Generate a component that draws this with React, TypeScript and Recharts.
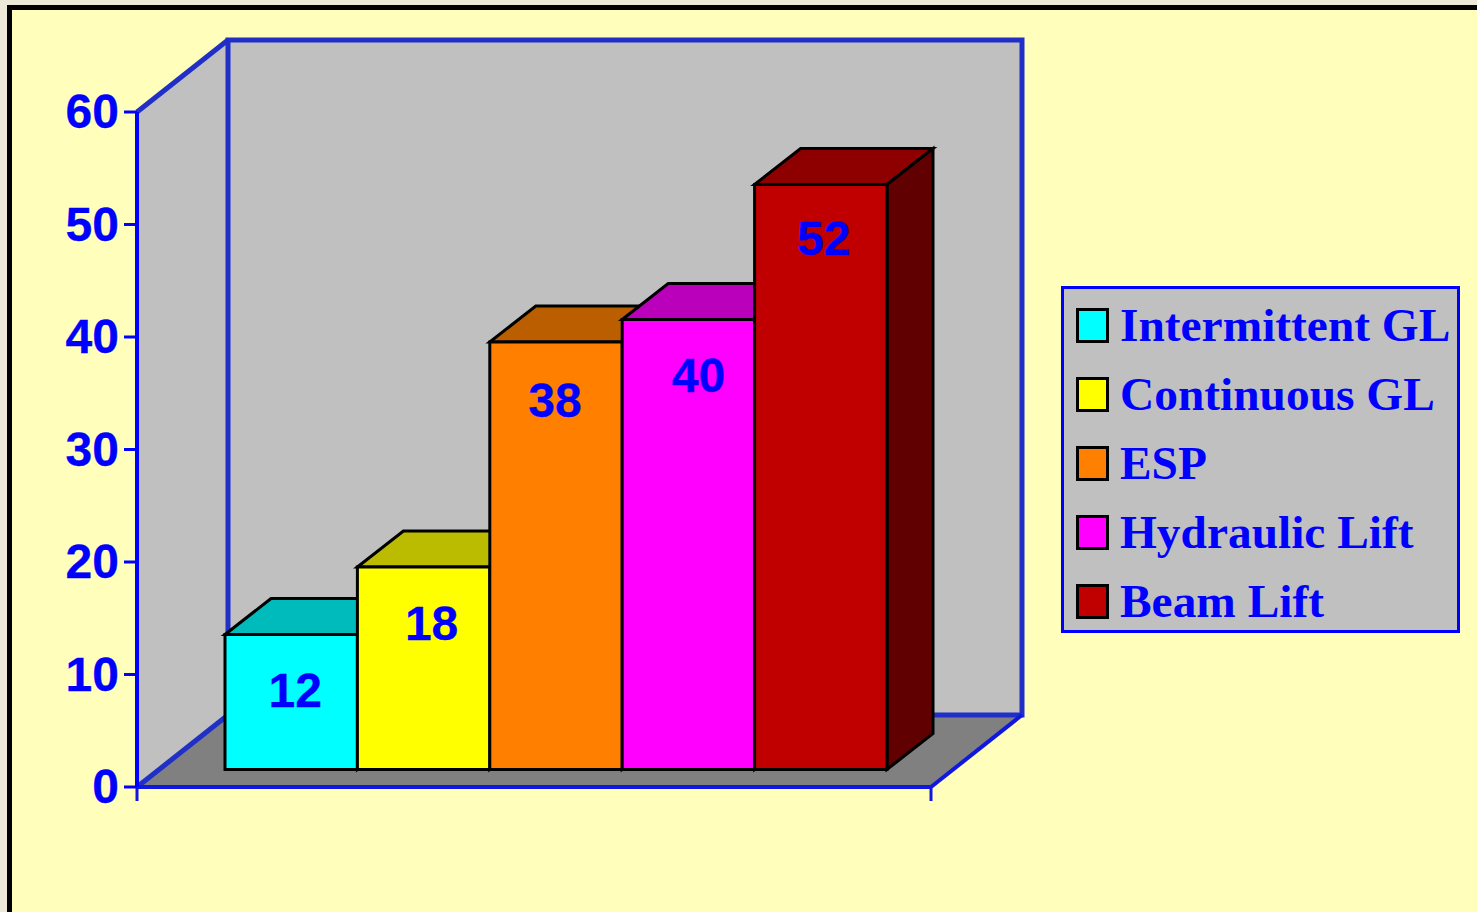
import { BarChart, Bar, XAxis, YAxis, Legend, LabelList, ReferenceArea } from 'recharts';

const seriesNames = ['Intermittent GL', 'Continuous GL', 'ESP', 'Hydraulic Lift', 'Beam Lift'];
const seriesValues = [12, 18, 38, 40, 52];
const yTicks = [0, 10, 20, 30, 40, 50, 60];

// front / top / side colours of each box
const frontColors = ['#00ffff', '#ffff00', '#ff8000', '#ff00ff', '#c00000'];
const topColors = ['#00bbbb', '#bbbb00', '#bb5e00', '#bb00bb', '#8e0000'];
const sideColors = ['#008080', '#808000', '#804000', '#800080', '#600000'];

// hand placed labels in the original, relative to the bar's front face
const labelDx = [4, 8, -1, 10, 3];
const labelDy = [56, 56, 58, 56, 54];

const BLUE = '#0000ff';
const WALL_BLUE = '#1f2fc8';
const AXIS_BLUE = '#1018e0';

// 3d look: back wall offset and bar depth, in px
const WALL_DX = 91;
const WALL_DY = -72;
const BAR_SHIFT_X = 22;
const BAR_SHIFT_Y = -17.5;
const BAR_DX = 46;
const BAR_DY = -36;

const chartData = [
  Object.fromEntries([['name', ''], ...seriesNames.map((n, i) => [n, seriesValues[i]])]),
];

function Walls({ x, y, width, height }: any) {
  const bottom = y + height;
  const bx = x + WALL_DX;
  const bt = y + WALL_DY;
  const bb = bottom + WALL_DY;
  const r = x + width;
  return (
    <g>
      <polygon points={`${x},${y} ${bx},${bt} ${bx},${bb} ${x},${bottom}`} fill="#c0c0c0" />
      <rect x={bx} y={bt} width={width} height={height} fill="#c0c0c0" />
      <polygon points={`${x},${bottom} ${bx},${bb} ${r + WALL_DX},${bb} ${r},${bottom}`} fill="#808080" />
      <rect x={bx} y={bt} width={width} height={height} fill="none" stroke={WALL_BLUE} strokeWidth={5} />
      <line x1={x} y1={y} x2={bx} y2={bt} stroke={WALL_BLUE} strokeWidth={5} />
      <line x1={x} y1={bottom} x2={bx} y2={bb} stroke={WALL_BLUE} strokeWidth={5} />
      <line x1={r} y1={bottom} x2={r + WALL_DX} y2={bb} stroke={AXIS_BLUE} strokeWidth={4} />
      <line x1={x} y1={bottom} x2={r} y2={bottom} stroke={AXIS_BLUE} strokeWidth={4} />
      <line x1={x} y1={y} x2={x} y2={bottom} stroke={AXIS_BLUE} strokeWidth={4} />
      <line x1={x} y1={bottom} x2={x} y2={bottom + 14} stroke={AXIS_BLUE} strokeWidth={3} />
      <line x1={r} y1={bottom} x2={r} y2={bottom + 14} stroke={AXIS_BLUE} strokeWidth={3} />
    </g>
  );
}

function Box3D({ x, y, width, height, fill, top, side }: any) {
  const fx = x + BAR_SHIFT_X;
  const fy = y + BAR_SHIFT_Y;
  const rx = fx + width;
  const by = fy + height;
  return (
    <g stroke="#000" strokeWidth={3} strokeLinejoin="miter">
      <polygon points={`${fx},${fy} ${fx + BAR_DX},${fy + BAR_DY} ${rx + BAR_DX},${fy + BAR_DY} ${rx},${fy}`} fill={top} />
      <polygon points={`${rx},${fy} ${rx + BAR_DX},${fy + BAR_DY} ${rx + BAR_DX},${by + BAR_DY} ${rx},${by}`} fill={side} />
      <rect x={fx} y={fy} width={width} height={height} fill={fill} />
    </g>
  );
}

function BarLabel({ x, y, width, value, dx, dy }: any) {
  return (
    <text
      x={x + BAR_SHIFT_X + width / 2 + dx}
      y={y + BAR_SHIFT_Y + dy}
      textAnchor="middle"
      dominantBaseline="central"
      fill={BLUE}
      stroke={BLUE}
      strokeWidth={0.3}
      fontFamily="'Liberation Sans', Arial, sans-serif"
      fontWeight="bold"
      fontSize={48}
    >
      {value}
    </text>
  );
}

function LegendBox({ payload }: any) {
  return (
    <div
      style={{
        boxSizing: 'border-box',
        width: 399,
        height: 347,
        background: '#c0c0c0',
        border: `3px solid ${BLUE}`,
        paddingTop: 2,
        fontFamily: "'Liberation Serif', 'Times New Roman', serif",
        fontWeight: 'bold',
        fontSize: 47.4,
        color: BLUE,
      }}
    >
      {(payload || []).map((p: any) => (
        <div key={p.value} style={{ display: 'flex', alignItems: 'center', height: 69, paddingLeft: 12, whiteSpace: 'nowrap' }}>
          <span style={{ boxSizing: 'border-box', width: 33, height: 35, border: '3px solid #000', background: p.color, marginRight: 11, flex: 'none' }} />
          <span style={{ position: 'relative', top: -1 }}>{p.value}</span>
        </div>
      ))}
    </div>
  );
}

export default function App() {
  return (
    <div style={{ position: 'absolute', left: 0, top: 0, width: 1477, height: 912, overflow: 'hidden', background: '#ece9d8' }}>
      <div style={{ position: 'absolute', left: 7, top: 5, width: 1600, height: 1100, border: '5px solid #000', background: '#ffffbb' }} />
      <div style={{ position: 'absolute', left: 0, top: 0 }}>
        <BarChart
          width={1477}
          height={912}
          data={chartData}
          margin={{ top: 112, right: 147, bottom: 125, left: 0 }}
          barCategoryGap={66}
          barGap={0}
          barSize={132.4}
        >
          <XAxis dataKey="name" height={0} tick={false} tickLine={false} axisLine={false} />
          <YAxis
            width={137}
            domain={[0, 60]}
            ticks={yTicks}
            interval={0}
            tickSize={13}
            tickMargin={5}
            stroke={BLUE}
            strokeWidth={4}
            tickLine={{ stroke: BLUE, strokeWidth: 3 }}
            tick={{ fill: BLUE, stroke: BLUE, strokeWidth: 0.3, dy: -1, fontSize: 48, fontWeight: 'bold', fontFamily: "'Liberation Sans', Arial, sans-serif" }}
          />
          <ReferenceArea y1={0} y2={60} ifOverflow="visible" shape={<Walls />} />
          {seriesNames.map((name, i) => (
            <Bar
              key={name}
              dataKey={name}
              fill={frontColors[i]}
              isAnimationActive={false}
              shape={(p: any) => <Box3D {...p} top={topColors[i]} side={sideColors[i]} />}
            >
              <LabelList dataKey={name} content={(p: any) => <BarLabel {...p} dx={labelDx[i]} dy={labelDy[i]} />} />
            </Bar>
          ))}
          <Legend
            layout="vertical"
            align="right"
            verticalAlign="middle"
            itemSorter={null}
            wrapperStyle={{ left: 1061, top: 286, width: 399, height: 347, right: 'auto', bottom: 'auto' }}
            content={<LegendBox />}
          />
        </BarChart>
      </div>
    </div>
  );
}
